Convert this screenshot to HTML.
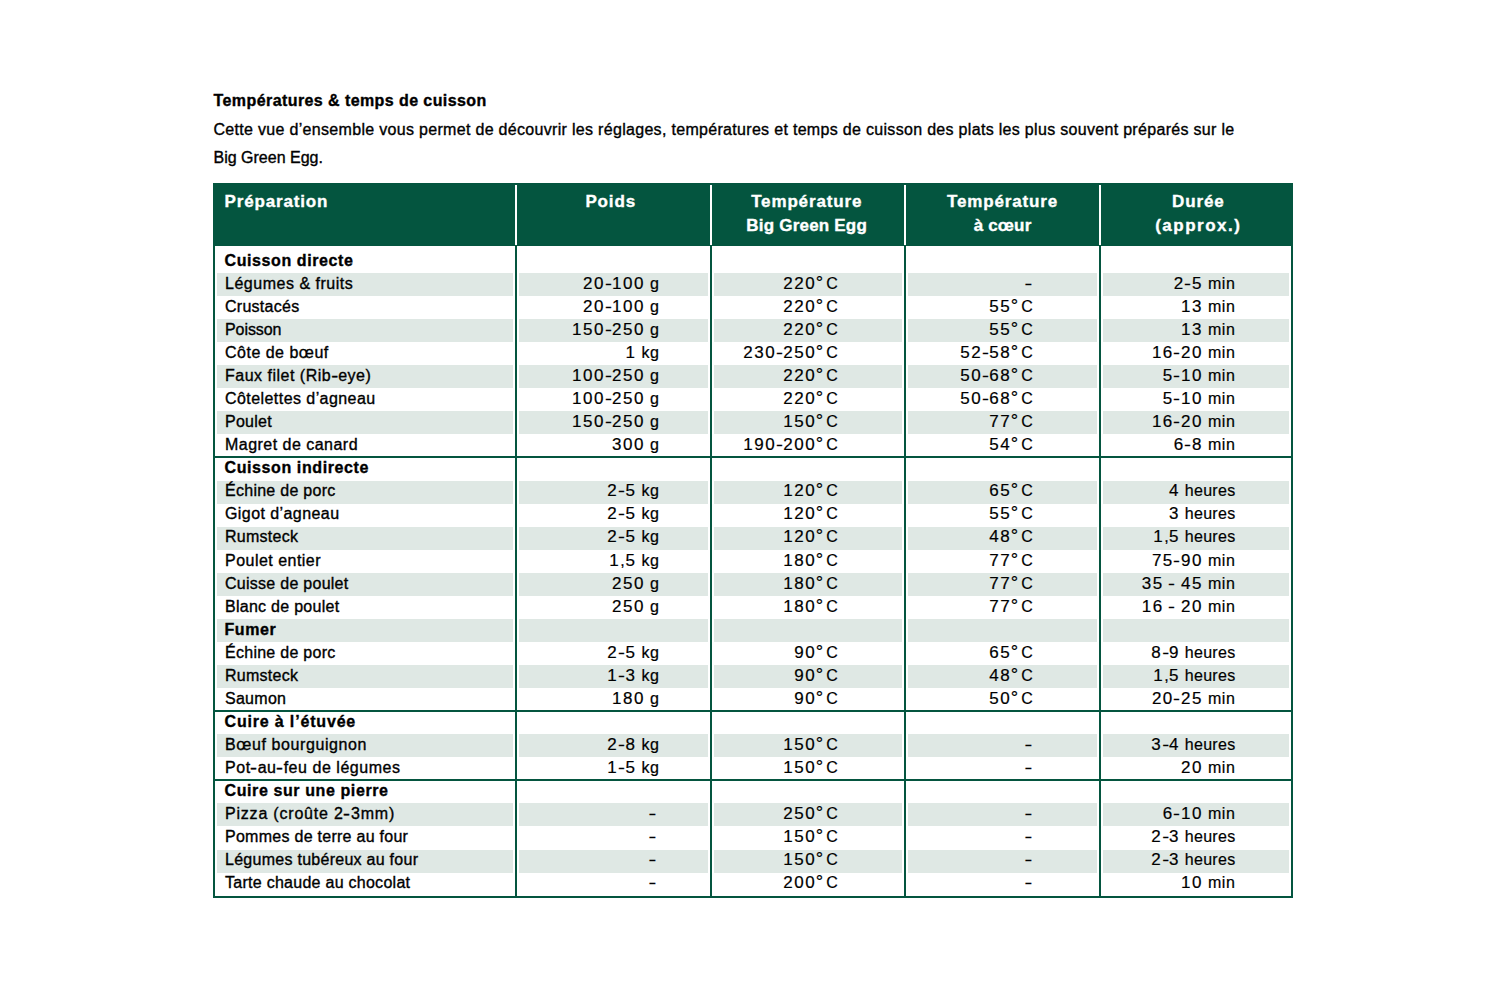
<!DOCTYPE html>
<html lang="fr"><head><meta charset="utf-8"><title>Températures &amp; temps de cuisson</title>
<style>
*{margin:0;padding:0;box-sizing:border-box}
html,body{width:1500px;height:1000px;background:#fff;overflow:hidden}
body{position:relative;font-family:"Liberation Sans",Arial,sans-serif;color:#000}
.b{position:absolute}
.t{position:absolute;white-space:nowrap;font-size:16px;line-height:20px;-webkit-text-stroke:0.35px currentColor}
.r{text-align:right} .c{text-align:center}
.ttl{font-weight:700;letter-spacing:0.42px}
.para{letter-spacing:0.31px}
.hd{font-weight:700;font-size:17px;color:#fff;letter-spacing:0.85px;word-spacing:-2.5px}
.sec{font-weight:700;letter-spacing:0.6px}
.ap{letter-spacing:1.5px}
.num.hr{letter-spacing:0.3px}
.hw{letter-spacing:0.2px;word-spacing:0}
.bd{letter-spacing:0.27px}
.num{letter-spacing:0.6px;-webkit-text-stroke-width:0.2px}
.dg{letter-spacing:3.2px;font-size:18.5px;margin-left:-0.5px;line-height:0}
.d{font-size:17px;letter-spacing:1.5px;line-height:0}
.h{display:inline-block;margin:0 0.6px;transform:scaleX(1.3)}
.dsh{display:inline-block;transform:scaleX(1.45);transform-origin:60% 50%}
</style></head><body>
<div class="t ttl" style="left:213.50px;top:91.46px">Températures &amp; temps de cuisson</div>
<div class="t para" style="left:213.50px;top:119.96px">Cette vue d’ensemble vous permet de découvrir les réglages, températures et temps de cuisson des plats les plus souvent préparés sur le</div>
<div class="t" style="left:213.50px;top:148.46px">Big Green Egg.</div>
<div class="b" style="left:213px;top:183px;width:1080px;height:63px;background:#04553f;"></div>
<div class="b" style="left:515px;top:185px;width:2px;height:60px;background:#fff;"></div>
<div class="b" style="left:709.5px;top:185px;width:2px;height:60px;background:#fff;"></div>
<div class="b" style="left:904px;top:185px;width:2px;height:60px;background:#fff;"></div>
<div class="b" style="left:1099px;top:185px;width:2px;height:60px;background:#fff;"></div>
<div class="b" style="left:217px;top:273.06px;width:296px;height:23.06px;background:#dfe8e4;"></div>
<div class="b" style="left:519px;top:273.06px;width:188.5px;height:23.06px;background:#dfe8e4;"></div>
<div class="b" style="left:713.5px;top:273.06px;width:188.5px;height:23.06px;background:#dfe8e4;"></div>
<div class="b" style="left:908px;top:273.06px;width:189px;height:23.06px;background:#dfe8e4;"></div>
<div class="b" style="left:1103px;top:273.06px;width:186px;height:23.06px;background:#dfe8e4;"></div>
<div class="b" style="left:217px;top:319.18px;width:296px;height:23.06px;background:#dfe8e4;"></div>
<div class="b" style="left:519px;top:319.18px;width:188.5px;height:23.06px;background:#dfe8e4;"></div>
<div class="b" style="left:713.5px;top:319.18px;width:188.5px;height:23.06px;background:#dfe8e4;"></div>
<div class="b" style="left:908px;top:319.18px;width:189px;height:23.06px;background:#dfe8e4;"></div>
<div class="b" style="left:1103px;top:319.18px;width:186px;height:23.06px;background:#dfe8e4;"></div>
<div class="b" style="left:217px;top:365.3px;width:296px;height:23.06px;background:#dfe8e4;"></div>
<div class="b" style="left:519px;top:365.3px;width:188.5px;height:23.06px;background:#dfe8e4;"></div>
<div class="b" style="left:713.5px;top:365.3px;width:188.5px;height:23.06px;background:#dfe8e4;"></div>
<div class="b" style="left:908px;top:365.3px;width:189px;height:23.06px;background:#dfe8e4;"></div>
<div class="b" style="left:1103px;top:365.3px;width:186px;height:23.06px;background:#dfe8e4;"></div>
<div class="b" style="left:217px;top:411.42px;width:296px;height:23.06px;background:#dfe8e4;"></div>
<div class="b" style="left:519px;top:411.42px;width:188.5px;height:23.06px;background:#dfe8e4;"></div>
<div class="b" style="left:713.5px;top:411.42px;width:188.5px;height:23.06px;background:#dfe8e4;"></div>
<div class="b" style="left:908px;top:411.42px;width:189px;height:23.06px;background:#dfe8e4;"></div>
<div class="b" style="left:1103px;top:411.42px;width:186px;height:23.06px;background:#dfe8e4;"></div>
<div class="b" style="left:217px;top:480.6px;width:296px;height:23.06px;background:#dfe8e4;"></div>
<div class="b" style="left:519px;top:480.6px;width:188.5px;height:23.06px;background:#dfe8e4;"></div>
<div class="b" style="left:713.5px;top:480.6px;width:188.5px;height:23.06px;background:#dfe8e4;"></div>
<div class="b" style="left:908px;top:480.6px;width:189px;height:23.06px;background:#dfe8e4;"></div>
<div class="b" style="left:1103px;top:480.6px;width:186px;height:23.06px;background:#dfe8e4;"></div>
<div class="b" style="left:217px;top:526.72px;width:296px;height:23.06px;background:#dfe8e4;"></div>
<div class="b" style="left:519px;top:526.72px;width:188.5px;height:23.06px;background:#dfe8e4;"></div>
<div class="b" style="left:713.5px;top:526.72px;width:188.5px;height:23.06px;background:#dfe8e4;"></div>
<div class="b" style="left:908px;top:526.72px;width:189px;height:23.06px;background:#dfe8e4;"></div>
<div class="b" style="left:1103px;top:526.72px;width:186px;height:23.06px;background:#dfe8e4;"></div>
<div class="b" style="left:217px;top:572.84px;width:296px;height:23.06px;background:#dfe8e4;"></div>
<div class="b" style="left:519px;top:572.84px;width:188.5px;height:23.06px;background:#dfe8e4;"></div>
<div class="b" style="left:713.5px;top:572.84px;width:188.5px;height:23.06px;background:#dfe8e4;"></div>
<div class="b" style="left:908px;top:572.84px;width:189px;height:23.06px;background:#dfe8e4;"></div>
<div class="b" style="left:1103px;top:572.84px;width:186px;height:23.06px;background:#dfe8e4;"></div>
<div class="b" style="left:217px;top:618.96px;width:296px;height:23.06px;background:#dfe8e4;"></div>
<div class="b" style="left:519px;top:618.96px;width:188.5px;height:23.06px;background:#dfe8e4;"></div>
<div class="b" style="left:713.5px;top:618.96px;width:188.5px;height:23.06px;background:#dfe8e4;"></div>
<div class="b" style="left:908px;top:618.96px;width:189px;height:23.06px;background:#dfe8e4;"></div>
<div class="b" style="left:1103px;top:618.96px;width:186px;height:23.06px;background:#dfe8e4;"></div>
<div class="b" style="left:217px;top:665.08px;width:296px;height:23.06px;background:#dfe8e4;"></div>
<div class="b" style="left:519px;top:665.08px;width:188.5px;height:23.06px;background:#dfe8e4;"></div>
<div class="b" style="left:713.5px;top:665.08px;width:188.5px;height:23.06px;background:#dfe8e4;"></div>
<div class="b" style="left:908px;top:665.08px;width:189px;height:23.06px;background:#dfe8e4;"></div>
<div class="b" style="left:1103px;top:665.08px;width:186px;height:23.06px;background:#dfe8e4;"></div>
<div class="b" style="left:217px;top:734.26px;width:296px;height:23.06px;background:#dfe8e4;"></div>
<div class="b" style="left:519px;top:734.26px;width:188.5px;height:23.06px;background:#dfe8e4;"></div>
<div class="b" style="left:713.5px;top:734.26px;width:188.5px;height:23.06px;background:#dfe8e4;"></div>
<div class="b" style="left:908px;top:734.26px;width:189px;height:23.06px;background:#dfe8e4;"></div>
<div class="b" style="left:1103px;top:734.26px;width:186px;height:23.06px;background:#dfe8e4;"></div>
<div class="b" style="left:217px;top:803.44px;width:296px;height:23.06px;background:#dfe8e4;"></div>
<div class="b" style="left:519px;top:803.44px;width:188.5px;height:23.06px;background:#dfe8e4;"></div>
<div class="b" style="left:713.5px;top:803.44px;width:188.5px;height:23.06px;background:#dfe8e4;"></div>
<div class="b" style="left:908px;top:803.44px;width:189px;height:23.06px;background:#dfe8e4;"></div>
<div class="b" style="left:1103px;top:803.44px;width:186px;height:23.06px;background:#dfe8e4;"></div>
<div class="b" style="left:217px;top:849.56px;width:296px;height:23.06px;background:#dfe8e4;"></div>
<div class="b" style="left:519px;top:849.56px;width:188.5px;height:23.06px;background:#dfe8e4;"></div>
<div class="b" style="left:713.5px;top:849.56px;width:188.5px;height:23.06px;background:#dfe8e4;"></div>
<div class="b" style="left:908px;top:849.56px;width:189px;height:23.06px;background:#dfe8e4;"></div>
<div class="b" style="left:1103px;top:849.56px;width:186px;height:23.06px;background:#dfe8e4;"></div>
<div class="b" style="left:515px;top:246px;width:2px;height:652px;background:#04553f;"></div>
<div class="b" style="left:709.5px;top:246px;width:2px;height:652px;background:#04553f;"></div>
<div class="b" style="left:904px;top:246px;width:2px;height:652px;background:#04553f;"></div>
<div class="b" style="left:1099px;top:246px;width:2px;height:652px;background:#04553f;"></div>
<div class="b" style="left:213px;top:183px;width:2px;height:715px;background:#04553f;"></div>
<div class="b" style="left:1291px;top:183px;width:2px;height:715px;background:#04553f;"></div>
<div class="b" style="left:213px;top:896px;width:1080px;height:2px;background:#04553f;"></div>
<div class="b" style="left:213px;top:456.04px;width:1080px;height:2px;background:#04553f;"></div>
<div class="b" style="left:213px;top:709.7px;width:1080px;height:2px;background:#04553f;"></div>
<div class="b" style="left:213px;top:778.88px;width:1080px;height:2px;background:#04553f;"></div>
<div class="t hd" style="left:224.50px;top:192.26px">Préparation</div>
<div class="t hd c" style="left:520.70px;top:192.26px;width:180px">Poids</div>
<div class="t hd c" style="left:716.70px;top:192.26px;width:180px">Température</div>
<div class="t hd hw c" style="left:716.70px;top:215.96px;width:180px">Big Green Egg</div>
<div class="t hd c" style="left:912.60px;top:192.26px;width:180px">Température</div>
<div class="t hd hw c" style="left:912.60px;top:215.96px;width:180px">à cœur</div>
<div class="t hd c" style="left:1108.30px;top:192.26px;width:180px">Durée</div>
<div class="t hd ap c" style="left:1108.30px;top:215.96px;width:180px">(approx.)</div>
<div class="t sec" style="left:224.50px;top:250.76px">Cuisson directe</div>
<div class="t bd" style="left:225.00px;top:273.82px;letter-spacing:0.517px">Légumes &amp; fruits</div>
<div class="t num r" style="left:479.50px;top:273.82px;width:180px"><span class="d">20</span><span class="h">-</span><span class="d">100</span> g</div>
<div class="t num r" style="left:658.50px;top:273.82px;width:180px"><span class="d">220</span><span class="dg">°</span>C</div>
<div class="t num r" style="left:851.50px;top:273.82px;width:180px"><span class="dsh">-</span></div>
<div class="t num r" style="left:1055.50px;top:273.82px;width:180px"><span class="d">2</span><span class="h">-</span><span class="d">5</span> min</div>
<div class="t bd" style="left:225.00px;top:296.88px">Crustacés</div>
<div class="t num r" style="left:479.50px;top:296.88px;width:180px"><span class="d">20</span><span class="h">-</span><span class="d">100</span> g</div>
<div class="t num r" style="left:658.50px;top:296.88px;width:180px"><span class="d">220</span><span class="dg">°</span>C</div>
<div class="t num r" style="left:853.50px;top:296.88px;width:180px"><span class="d">55</span><span class="dg">°</span>C</div>
<div class="t num r" style="left:1055.50px;top:296.88px;width:180px"><span class="d">13</span> min</div>
<div class="t bd" style="left:225.00px;top:319.94px;letter-spacing:-0.080px">Poisson</div>
<div class="t num r" style="left:479.50px;top:319.94px;width:180px"><span class="d">150</span><span class="h">-</span><span class="d">250</span> g</div>
<div class="t num r" style="left:658.50px;top:319.94px;width:180px"><span class="d">220</span><span class="dg">°</span>C</div>
<div class="t num r" style="left:853.50px;top:319.94px;width:180px"><span class="d">55</span><span class="dg">°</span>C</div>
<div class="t num r" style="left:1055.50px;top:319.94px;width:180px"><span class="d">13</span> min</div>
<div class="t bd" style="left:225.00px;top:343.00px;letter-spacing:0.497px">Côte de bœuf</div>
<div class="t num r" style="left:479.50px;top:343.00px;width:180px"><span class="d">1</span> kg</div>
<div class="t num r" style="left:658.50px;top:343.00px;width:180px"><span class="d">230</span><span class="h">-</span><span class="d">250</span><span class="dg">°</span>C</div>
<div class="t num r" style="left:853.50px;top:343.00px;width:180px"><span class="d">52</span><span class="h">-</span><span class="d">58</span><span class="dg">°</span>C</div>
<div class="t num r" style="left:1055.50px;top:343.00px;width:180px"><span class="d">16</span><span class="h">-</span><span class="d">20</span> min</div>
<div class="t bd" style="left:225.00px;top:366.06px;letter-spacing:0.496px">Faux filet (Rib<span class="h">-</span>eye)</div>
<div class="t num r" style="left:479.50px;top:366.06px;width:180px"><span class="d">100</span><span class="h">-</span><span class="d">250</span> g</div>
<div class="t num r" style="left:658.50px;top:366.06px;width:180px"><span class="d">220</span><span class="dg">°</span>C</div>
<div class="t num r" style="left:853.50px;top:366.06px;width:180px"><span class="d">50</span><span class="h">-</span><span class="d">68</span><span class="dg">°</span>C</div>
<div class="t num r" style="left:1055.50px;top:366.06px;width:180px"><span class="d">5</span><span class="h">-</span><span class="d">10</span> min</div>
<div class="t bd" style="left:225.00px;top:389.12px;letter-spacing:0.437px">Côtelettes d’agneau</div>
<div class="t num r" style="left:479.50px;top:389.12px;width:180px"><span class="d">100</span><span class="h">-</span><span class="d">250</span> g</div>
<div class="t num r" style="left:658.50px;top:389.12px;width:180px"><span class="d">220</span><span class="dg">°</span>C</div>
<div class="t num r" style="left:853.50px;top:389.12px;width:180px"><span class="d">50</span><span class="h">-</span><span class="d">68</span><span class="dg">°</span>C</div>
<div class="t num r" style="left:1055.50px;top:389.12px;width:180px"><span class="d">5</span><span class="h">-</span><span class="d">10</span> min</div>
<div class="t bd" style="left:225.00px;top:412.18px">Poulet</div>
<div class="t num r" style="left:479.50px;top:412.18px;width:180px"><span class="d">150</span><span class="h">-</span><span class="d">250</span> g</div>
<div class="t num r" style="left:658.50px;top:412.18px;width:180px"><span class="d">150</span><span class="dg">°</span>C</div>
<div class="t num r" style="left:853.50px;top:412.18px;width:180px"><span class="d">77</span><span class="dg">°</span>C</div>
<div class="t num r" style="left:1055.50px;top:412.18px;width:180px"><span class="d">16</span><span class="h">-</span><span class="d">20</span> min</div>
<div class="t bd" style="left:225.00px;top:435.24px;letter-spacing:0.477px">Magret de canard</div>
<div class="t num r" style="left:479.50px;top:435.24px;width:180px"><span class="d">300</span> g</div>
<div class="t num r" style="left:658.50px;top:435.24px;width:180px"><span class="d">190</span><span class="h">-</span><span class="d">200</span><span class="dg">°</span>C</div>
<div class="t num r" style="left:853.50px;top:435.24px;width:180px"><span class="d">54</span><span class="dg">°</span>C</div>
<div class="t num r" style="left:1055.50px;top:435.24px;width:180px"><span class="d">6</span><span class="h">-</span><span class="d">8</span> min</div>
<div class="t sec" style="left:224.50px;top:458.30px">Cuisson indirecte</div>
<div class="t bd" style="left:225.00px;top:481.36px">Échine de porc</div>
<div class="t num r" style="left:479.50px;top:481.36px;width:180px"><span class="d">2</span><span class="h">-</span><span class="d">5</span> kg</div>
<div class="t num r" style="left:658.50px;top:481.36px;width:180px"><span class="d">120</span><span class="dg">°</span>C</div>
<div class="t num r" style="left:853.50px;top:481.36px;width:180px"><span class="d">65</span><span class="dg">°</span>C</div>
<div class="t num hr r" style="left:1055.50px;top:481.36px;width:180px"><span class="d">4</span> heures</div>
<div class="t bd" style="left:225.00px;top:504.42px;letter-spacing:0.424px">Gigot d’agneau</div>
<div class="t num r" style="left:479.50px;top:504.42px;width:180px"><span class="d">2</span><span class="h">-</span><span class="d">5</span> kg</div>
<div class="t num r" style="left:658.50px;top:504.42px;width:180px"><span class="d">120</span><span class="dg">°</span>C</div>
<div class="t num r" style="left:853.50px;top:504.42px;width:180px"><span class="d">55</span><span class="dg">°</span>C</div>
<div class="t num hr r" style="left:1055.50px;top:504.42px;width:180px"><span class="d">3</span> heures</div>
<div class="t bd" style="left:225.00px;top:527.48px">Rumsteck</div>
<div class="t num r" style="left:479.50px;top:527.48px;width:180px"><span class="d">2</span><span class="h">-</span><span class="d">5</span> kg</div>
<div class="t num r" style="left:658.50px;top:527.48px;width:180px"><span class="d">120</span><span class="dg">°</span>C</div>
<div class="t num r" style="left:853.50px;top:527.48px;width:180px"><span class="d">48</span><span class="dg">°</span>C</div>
<div class="t num hr r" style="left:1055.50px;top:527.48px;width:180px"><span class="d">1</span>,<span class="d">5</span> heures</div>
<div class="t bd" style="left:225.00px;top:550.54px;letter-spacing:0.478px">Poulet entier</div>
<div class="t num r" style="left:479.50px;top:550.54px;width:180px"><span class="d">1</span>,<span class="d">5</span> kg</div>
<div class="t num r" style="left:658.50px;top:550.54px;width:180px"><span class="d">180</span><span class="dg">°</span>C</div>
<div class="t num r" style="left:853.50px;top:550.54px;width:180px"><span class="d">77</span><span class="dg">°</span>C</div>
<div class="t num r" style="left:1055.50px;top:550.54px;width:180px"><span class="d">75</span><span class="h">-</span><span class="d">90</span> min</div>
<div class="t bd" style="left:225.00px;top:573.60px">Cuisse de poulet</div>
<div class="t num r" style="left:479.50px;top:573.60px;width:180px"><span class="d">250</span> g</div>
<div class="t num r" style="left:658.50px;top:573.60px;width:180px"><span class="d">180</span><span class="dg">°</span>C</div>
<div class="t num r" style="left:853.50px;top:573.60px;width:180px"><span class="d">77</span><span class="dg">°</span>C</div>
<div class="t num r" style="left:1055.50px;top:573.60px;width:180px"><span class="d">35</span> <span class="h">-</span> <span class="d">45</span> min</div>
<div class="t bd" style="left:225.00px;top:596.66px">Blanc de poulet</div>
<div class="t num r" style="left:479.50px;top:596.66px;width:180px"><span class="d">250</span> g</div>
<div class="t num r" style="left:658.50px;top:596.66px;width:180px"><span class="d">180</span><span class="dg">°</span>C</div>
<div class="t num r" style="left:853.50px;top:596.66px;width:180px"><span class="d">77</span><span class="dg">°</span>C</div>
<div class="t num r" style="left:1055.50px;top:596.66px;width:180px"><span class="d">16</span> <span class="h">-</span> <span class="d">20</span> min</div>
<div class="t sec" style="left:224.50px;top:619.72px">Fumer</div>
<div class="t bd" style="left:225.00px;top:642.78px">Échine de porc</div>
<div class="t num r" style="left:479.50px;top:642.78px;width:180px"><span class="d">2</span><span class="h">-</span><span class="d">5</span> kg</div>
<div class="t num r" style="left:658.50px;top:642.78px;width:180px"><span class="d">90</span><span class="dg">°</span>C</div>
<div class="t num r" style="left:853.50px;top:642.78px;width:180px"><span class="d">65</span><span class="dg">°</span>C</div>
<div class="t num hr r" style="left:1055.50px;top:642.78px;width:180px"><span class="d">8</span><span class="h">-</span><span class="d">9</span> heures</div>
<div class="t bd" style="left:225.00px;top:665.84px">Rumsteck</div>
<div class="t num r" style="left:479.50px;top:665.84px;width:180px"><span class="d">1</span><span class="h">-</span><span class="d">3</span> kg</div>
<div class="t num r" style="left:658.50px;top:665.84px;width:180px"><span class="d">90</span><span class="dg">°</span>C</div>
<div class="t num r" style="left:853.50px;top:665.84px;width:180px"><span class="d">48</span><span class="dg">°</span>C</div>
<div class="t num hr r" style="left:1055.50px;top:665.84px;width:180px"><span class="d">1</span>,<span class="d">5</span> heures</div>
<div class="t bd" style="left:225.00px;top:688.90px">Saumon</div>
<div class="t num r" style="left:479.50px;top:688.90px;width:180px"><span class="d">180</span> g</div>
<div class="t num r" style="left:658.50px;top:688.90px;width:180px"><span class="d">90</span><span class="dg">°</span>C</div>
<div class="t num r" style="left:853.50px;top:688.90px;width:180px"><span class="d">50</span><span class="dg">°</span>C</div>
<div class="t num r" style="left:1055.50px;top:688.90px;width:180px"><span class="d">20</span><span class="h">-</span><span class="d">25</span> min</div>
<div class="t sec" style="left:224.50px;top:711.96px;letter-spacing:0.833px">Cuire à l’étuvée</div>
<div class="t bd" style="left:225.00px;top:735.02px;letter-spacing:0.597px">Bœuf bourguignon</div>
<div class="t num r" style="left:479.50px;top:735.02px;width:180px"><span class="d">2</span><span class="h">-</span><span class="d">8</span> kg</div>
<div class="t num r" style="left:658.50px;top:735.02px;width:180px"><span class="d">150</span><span class="dg">°</span>C</div>
<div class="t num r" style="left:851.50px;top:735.02px;width:180px"><span class="dsh">-</span></div>
<div class="t num hr r" style="left:1055.50px;top:735.02px;width:180px"><span class="d">3</span><span class="h">-</span><span class="d">4</span> heures</div>
<div class="t bd" style="left:225.00px;top:758.08px;letter-spacing:0.535px">Pot<span class="h">-</span>au<span class="h">-</span>feu de légumes</div>
<div class="t num r" style="left:479.50px;top:758.08px;width:180px"><span class="d">1</span><span class="h">-</span><span class="d">5</span> kg</div>
<div class="t num r" style="left:658.50px;top:758.08px;width:180px"><span class="d">150</span><span class="dg">°</span>C</div>
<div class="t num r" style="left:851.50px;top:758.08px;width:180px"><span class="dsh">-</span></div>
<div class="t num r" style="left:1055.50px;top:758.08px;width:180px"><span class="d">20</span> min</div>
<div class="t sec" style="left:224.50px;top:781.14px">Cuire sur une pierre</div>
<div class="t bd" style="left:225.00px;top:804.20px;letter-spacing:0.796px">Pizza (croûte 2<span class="h">-</span>3mm)</div>
<div class="t num r" style="left:476.00px;top:804.20px;width:180px"><span class="dsh">-</span></div>
<div class="t num r" style="left:658.50px;top:804.20px;width:180px"><span class="d">250</span><span class="dg">°</span>C</div>
<div class="t num r" style="left:851.50px;top:804.20px;width:180px"><span class="dsh">-</span></div>
<div class="t num r" style="left:1055.50px;top:804.20px;width:180px"><span class="d">6</span><span class="h">-</span><span class="d">10</span> min</div>
<div class="t bd" style="left:225.00px;top:827.26px">Pommes de terre au four</div>
<div class="t num r" style="left:476.00px;top:827.26px;width:180px"><span class="dsh">-</span></div>
<div class="t num r" style="left:658.50px;top:827.26px;width:180px"><span class="d">150</span><span class="dg">°</span>C</div>
<div class="t num r" style="left:851.50px;top:827.26px;width:180px"><span class="dsh">-</span></div>
<div class="t num hr r" style="left:1055.50px;top:827.26px;width:180px"><span class="d">2</span><span class="h">-</span><span class="d">3</span> heures</div>
<div class="t bd" style="left:225.00px;top:850.32px">Légumes tubéreux au four</div>
<div class="t num r" style="left:476.00px;top:850.32px;width:180px"><span class="dsh">-</span></div>
<div class="t num r" style="left:658.50px;top:850.32px;width:180px"><span class="d">150</span><span class="dg">°</span>C</div>
<div class="t num r" style="left:851.50px;top:850.32px;width:180px"><span class="dsh">-</span></div>
<div class="t num hr r" style="left:1055.50px;top:850.32px;width:180px"><span class="d">2</span><span class="h">-</span><span class="d">3</span> heures</div>
<div class="t bd" style="left:225.00px;top:873.38px">Tarte chaude au chocolat</div>
<div class="t num r" style="left:476.00px;top:873.38px;width:180px"><span class="dsh">-</span></div>
<div class="t num r" style="left:658.50px;top:873.38px;width:180px"><span class="d">200</span><span class="dg">°</span>C</div>
<div class="t num r" style="left:851.50px;top:873.38px;width:180px"><span class="dsh">-</span></div>
<div class="t num r" style="left:1055.50px;top:873.38px;width:180px"><span class="d">10</span> min</div>
</body></html>
